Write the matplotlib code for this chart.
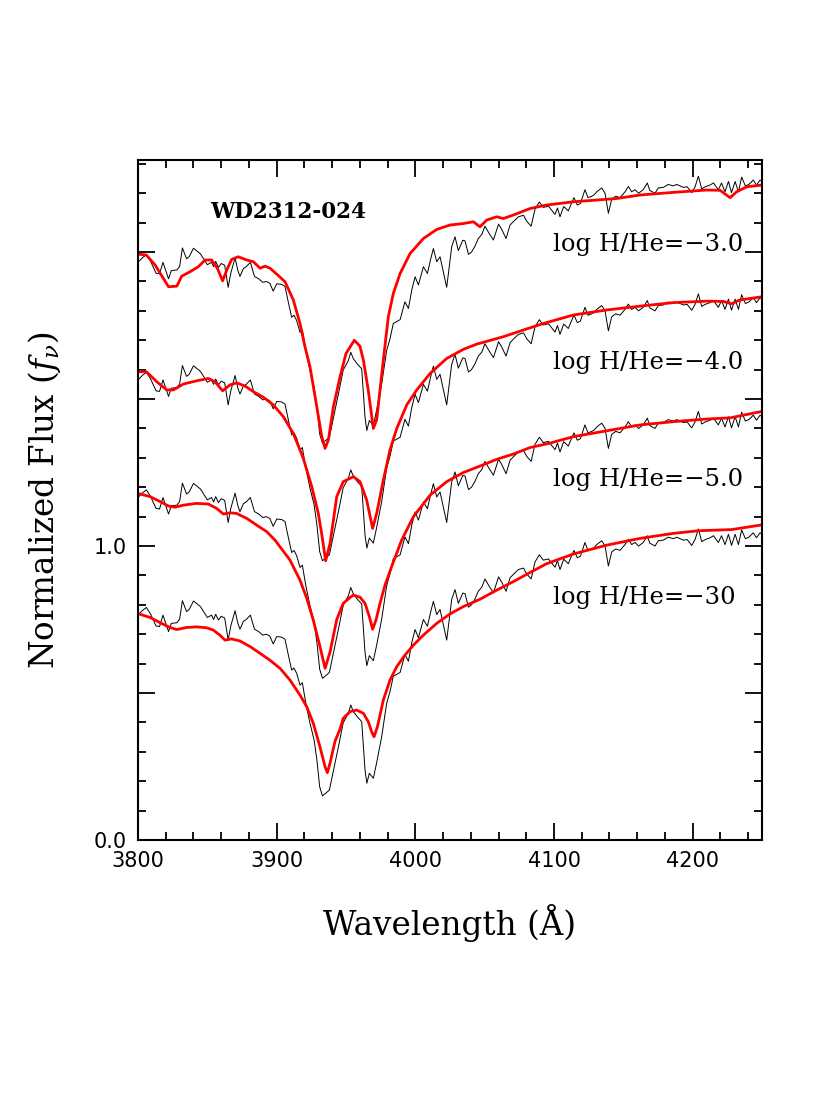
import numpy as np
import matplotlib
matplotlib.use('Agg')
import matplotlib.pyplot as plt
from matplotlib.ticker import MultipleLocator, FuncFormatter

# observed spectrum of WD2312-024 (same data, shifted for each model)
obs_wave = [3800, 3803, 3806, 3809, 3813, 3815.5, 3818, 3822, 3824, 3828, 3830, 3832, 3835, 3837, 3840,
            3845, 3850, 3853, 3854.5, 3856, 3858, 3860, 3862.5, 3865, 3867, 3870, 3872, 3873.5, 3876, 3878,
            3881, 3884, 3887, 3890, 3892.5, 3895, 3897.5, 3900, 3903.6, 3906, 3908.4, 3910.8, 3912.5, 3914.4,
            3916.8, 3918.5, 3921, 3924, 3927, 3929, 3931, 3933, 3935.6, 3938, 3941, 3944.5, 3948, 3951.7,
            3953.4, 3955.3, 3958, 3961.3, 3963.7, 3965, 3966.8, 3969.7, 3972, 3975.7, 3979.3, 3981.7, 3984.1,
            3989, 3992.5, 3995, 3997.4, 3999.8, 4002.2, 4005.8, 4008.7, 4011, 4013, 4015.4, 4017.8, 4022.6,
            4026.2, 4028.6, 4031, 4034.2, 4035.8, 4038.3, 4040.5, 4043, 4045.4, 4047.9, 4050.2, 4053.4, 4056.3,
            4060, 4062.3, 4065.4, 4068.3, 4071, 4074.3, 4078, 4080.3, 4083.5, 4086.3, 4089.4, 4092.3, 4096,
            4100.7, 4102.5, 4104.3, 4107, 4110.3, 4112.5, 4114.4, 4116.8, 4119, 4122.3, 4124.5, 4127.2, 4129,
            4130.8, 4134.4, 4136.8, 4139.2, 4141.6, 4144.5, 4147.6, 4151.2, 4153.6, 4156, 4158.4, 4161, 4164.3,
            4167.3, 4169, 4172.8, 4175.2, 4178.8, 4182.4, 4186, 4188.5, 4190.9, 4193.3, 4196, 4199.3, 4201.7,
            4204.1, 4206.5, 4209, 4212.5, 4215, 4218.5, 4220.8, 4223.3, 4225.8, 4228, 4230.6, 4233, 4235.3,
            4238, 4240.5, 4243.7, 4246, 4248.6, 4250]
obs_flux = [0.765, 0.780, 0.791, 0.769, 0.728, 0.726, 0.765, 0.709, 0.737, 0.739, 0.751, 0.814, 0.777, 0.785, 0.813,
            0.794, 0.757, 0.765, 0.750, 0.768, 0.748, 0.761, 0.755, 0.680, 0.730, 0.780, 0.737, 0.717, 0.744, 0.750,
            0.765, 0.717, 0.709, 0.697, 0.700, 0.694, 0.667, 0.692, 0.690, 0.683, 0.629, 0.578, 0.585, 0.567,
            0.527, 0.535, 0.465, 0.397, 0.340, 0.272, 0.181, 0.150, 0.160, 0.170, 0.238, 0.317, 0.399, 0.431,
            0.459, 0.437, 0.420, 0.403, 0.238, 0.193, 0.227, 0.210, 0.261, 0.351, 0.465, 0.505, 0.557,
            0.570, 0.631, 0.608, 0.671, 0.716, 0.688, 0.750, 0.727, 0.775, 0.812, 0.767, 0.784, 0.680,
            0.818, 0.852, 0.805, 0.840, 0.838, 0.792, 0.800, 0.820, 0.846, 0.860, 0.888, 0.862, 0.841,
            0.895, 0.877, 0.846, 0.892, 0.905, 0.920, 0.925, 0.905, 0.888, 0.946, 0.970, 0.952, 0.956,
            0.928, 0.950, 0.920, 0.955, 0.940, 0.965, 0.985, 0.960, 0.965, 1.012, 0.985, 0.990, 0.995,
            1.005, 1.018, 1.000, 0.932, 0.980, 0.990, 0.985, 1.005, 1.023, 1.005, 1.012, 1.000, 1.012,
            1.035, 1.010, 1.000, 1.018, 1.020, 1.030, 1.025, 1.030, 1.025, 1.020, 1.022, 1.002, 1.022,
            1.058, 1.015, 1.022, 1.028, 1.035, 1.012, 1.035, 1.005, 1.040, 1.002, 1.040, 1.005, 1.055,
            1.025, 1.030, 1.045, 1.028, 1.045, 1.040]

# model spectra (unshifted)
m3_wave = [3800, 3806, 3812.3, 3818.3, 3822, 3828, 3831.5, 3837.5, 3843.5, 3848.3, 3853.1, 3857.2, 3861, 3864,
           3867.5, 3872.3, 3878.4, 3883.2, 3888, 3891.6, 3895.2, 3900, 3906, 3912, 3916.8, 3920.4, 3924, 3928.9,
           3932.5, 3934.9, 3937.3, 3940.9, 3945.7, 3950, 3956, 3960, 3962.5, 3966, 3969.7, 3972.1, 3974.5,
           3976.9, 3980.5, 3984.1, 3989, 3996.2, 4005.8, 4015.4, 4025, 4034.6, 4041.8, 4046.6, 4051.5, 4058.7,
           4063.4, 4070.7, 4082.7, 4094.7, 4114, 4145, 4162, 4186, 4210, 4219.7, 4227, 4231.7, 4239, 4250]
m3_flux = [0.793, 0.790, 0.756, 0.710, 0.682, 0.684, 0.718, 0.733, 0.750, 0.773, 0.773, 0.745, 0.702, 0.739,
           0.775, 0.784, 0.773, 0.767, 0.745, 0.752, 0.745, 0.725, 0.699, 0.637, 0.557, 0.478, 0.410, 0.274,
           0.172, 0.132, 0.161, 0.274, 0.376, 0.455, 0.500, 0.480, 0.433, 0.331, 0.200, 0.229, 0.331,
           0.433, 0.580, 0.659, 0.727, 0.795, 0.846, 0.877, 0.892, 0.897, 0.903, 0.886, 0.909, 0.920,
           0.914, 0.926, 0.948, 0.960, 0.971, 0.982, 0.994, 1.003, 1.011, 1.010, 0.985, 1.005, 1.022, 1.028]

m4_wave = [3800, 3806, 3813.5, 3820.7, 3825.5, 3832.7, 3842.3, 3850.7, 3855.5, 3861, 3866.3, 3871.2, 3877.2,
           3883.2, 3890.4, 3897.6, 3904.8, 3912, 3919.2, 3925.3, 3930, 3932.5, 3935.3, 3938.5, 3943.3, 3948,
           3955.3, 3960.1, 3964.9, 3969.2, 3972.1, 3976.9, 3981.7, 3986.6, 3993.8, 4001, 4010.6, 4022.6, 4034.6,
           4044.3, 4049, 4063.4, 4078, 4092.3, 4114, 4138, 4162, 4186, 4210, 4222, 4228, 4234, 4250]
m4_flux = [0.793, 0.793, 0.759, 0.731, 0.731, 0.751, 0.762, 0.770, 0.759, 0.728, 0.748, 0.755, 0.744,
           0.725, 0.706, 0.680, 0.640, 0.583, 0.498, 0.402, 0.311, 0.240, 0.150, 0.209, 0.368, 0.419,
           0.436, 0.419, 0.356, 0.260, 0.311, 0.424, 0.527, 0.600, 0.680, 0.731, 0.787, 0.838, 0.869,
           0.887, 0.893, 0.912, 0.935, 0.957, 0.986, 1.003, 1.016, 1.028, 1.033, 1.032, 1.024, 1.037, 1.048]

m5_wave = [3800, 3808.7, 3816, 3822, 3826.7, 3832.7, 3842, 3850.7, 3856.7, 3861.5, 3866.3, 3871, 3878.4, 3885.6,
           3892.8, 3898.8, 3909.6, 3916.8, 3921.7, 3926.4, 3931.2, 3934.9, 3938.5, 3943.3, 3948, 3952.9, 3955.3,
           3960.1, 3963.7, 3966.8, 3969.2, 3971.6, 3974.5, 3978.1, 3982.9, 3990.1, 3998.6, 4010.6, 4022.6, 4034.6,
           4046.6, 4058.7, 4070.7, 4082.7, 4097, 4114, 4138, 4162, 4186, 4210, 4227, 4250]
m5_flux = [0.779, 0.768, 0.751, 0.736, 0.732, 0.739, 0.745, 0.743, 0.728, 0.709, 0.713, 0.711, 0.694, 0.671,
           0.649, 0.620, 0.552, 0.484, 0.422, 0.348, 0.258, 0.184, 0.240, 0.350, 0.405, 0.425, 0.433,
           0.426, 0.405, 0.360, 0.317, 0.348, 0.405, 0.467, 0.530, 0.620, 0.700, 0.773, 0.819, 0.850,
           0.872, 0.895, 0.913, 0.935, 0.950, 0.972, 0.992, 1.012, 1.023, 1.032, 1.036, 1.058]

m30_wave = [3800, 3808.7, 3816, 3823, 3828, 3835, 3842, 3849.5, 3854.3, 3859, 3862.7, 3867.5, 3873.5, 3880.8,
            3888, 3895, 3902.4, 3909.6, 3916.8, 3921.7, 3926.4, 3931.2, 3934.9, 3936.5, 3938.5, 3942, 3945.7,
            3948, 3952.9, 3957.7, 3962.5, 3966, 3968.5, 3970.2, 3972.6, 3976.9, 3981.7, 3986.6, 3992.5, 3998.6,
            4005.8, 4015.4, 4025, 4034.6, 4046.6, 4058.7, 4070.7, 4082.7, 4094.7, 4114, 4138, 4162, 4186, 4204,
            4228, 4250]
m30_flux = [0.770, 0.757, 0.739, 0.723, 0.716, 0.723, 0.725, 0.722, 0.714, 0.697, 0.680, 0.684, 0.677, 0.658,
            0.635, 0.612, 0.584, 0.544, 0.493, 0.453, 0.397, 0.317, 0.249, 0.229, 0.262, 0.335, 0.378,
            0.414, 0.437, 0.442, 0.431, 0.403, 0.368, 0.351, 0.385, 0.476, 0.544, 0.590, 0.629, 0.663,
            0.697, 0.737, 0.769, 0.794, 0.819, 0.850, 0.879, 0.910, 0.940, 0.973, 1.003, 1.026, 1.043, 1.052,
            1.056, 1.072]

models = [(m3_wave, m3_flux), (m4_wave, m4_flux), (m5_wave, m5_flux), (m30_wave, m30_flux)]
offsets = [1.2, 0.8, 0.4, 0.0]
model_labels = ["log H/He=\u22123.0", "log H/He=\u22124.0", "log H/He=\u22125.0", "log H/He=\u221230"]
ytick_text = {0.0: "0.0", 1.0: "1.0"}

plt.rcParams['mathtext.fontset'] = 'dejavuserif'

fig = plt.figure(figsize=(8.3, 11.06), dpi=100)
ax = fig.add_axes([0.1663, 0.2405, 0.7518, 0.6148])

# data first, models on top
for off in offsets:
	ax.plot(obs_wave, np.array(obs_flux) + off, color="black", lw=0.7)
for (mw, mf), off in zip(models, offsets):
	ax.plot(mw, np.array(mf) + off, color="red", lw=2.0)

for lab, off in zip(model_labels, offsets):
	ax.text(4099, 0.825 + off, lab, fontsize=17.5, family="DejaVu Serif", va="center", ha="left")

ax.text(3852, 2.137, "WD2312-024", fontsize=15.5, family="DejaVu Serif", weight="bold", va="center", ha="left")

ax.set_xlim(3800, 4250)
ax.set_ylim(0, 2.313)

ax.xaxis.set_major_locator(MultipleLocator(100))
ax.xaxis.set_minor_locator(MultipleLocator(20))
ax.yaxis.set_major_locator(MultipleLocator(0.5))
ax.yaxis.set_minor_locator(MultipleLocator(0.1))
ax.yaxis.set_major_formatter(FuncFormatter(lambda v, p: ytick_text.get(round(v, 2), "")))

ax.tick_params(which="both", direction="in", top=True, right=True, width=1.3, labelsize=15)
ax.tick_params(which="major", length=12, pad=8)
ax.tick_params(which="minor", length=6)
for s in ax.spines.values():
	s.set_linewidth(1.5)

ax.set_xlabel("Wavelength (\u00c5)", fontsize=23.5, family="DejaVu Serif", labelpad=24)
ax.set_ylabel("Normalized Flux ($f_\\nu$)", fontsize=23.5, family="DejaVu Serif", labelpad=22)

plt.savefig("out.png")
